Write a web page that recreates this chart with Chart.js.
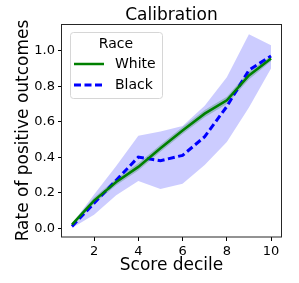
<!DOCTYPE html>
<html>
<head>
<meta charset="utf-8">
<script src="https://cdn.jsdelivr.net/npm/chart.js@4"></script>
<style>
  html, body { margin: 0; padding: 0; background: #fff; }
  #wrap { width: 299px; height: 283px; }
</style>
</head>
<body>
<div id="wrap"><canvas id="c" width="299" height="283"></canvas></div>
<script>
const deciles = [1, 2, 3, 4, 5, 6, 7, 8, 9, 10];
const whiteRate  = [0.020, 0.155, 0.260, 0.345, 0.450, 0.550, 0.645, 0.720, 0.860, 0.955];
const whiteLower = [0.010, 0.137, 0.242, 0.325, 0.430, 0.530, 0.625, 0.700, 0.838, 0.940];
const whiteUpper = [0.030, 0.173, 0.278, 0.365, 0.470, 0.570, 0.665, 0.740, 0.882, 0.970];
const blackRate  = [0.010, 0.140, 0.270, 0.400, 0.380, 0.410, 0.515, 0.685, 0.890, 0.970];
const blackLower = [0.000, 0.075, 0.185, 0.265, 0.220, 0.250, 0.355, 0.485, 0.680, 0.900];
const blackUpper = [0.025, 0.190, 0.350, 0.520, 0.545, 0.575, 0.690, 0.850, 1.092, 1.030];
const xTicks = [2, 4, 6, 8, 10];
const yTicks = [0.0, 0.2, 0.4, 0.6, 0.8, 1.0];
const chartTitle = 'Calibration';
const legendTitle = 'Race';
const seriesNames = ['White', 'Black'];

const FONT = "'DejaVu Sans', sans-serif";
const pts = (ys) => deciles.map((x, i) => ({ x: x, y: ys[i] }));

const frame = {
  id: 'frame',
  afterDatasetsDraw(chart) {
    const { ctx, chartArea: a } = chart;
    ctx.save();
    ctx.strokeStyle = '#262626';
    ctx.lineWidth = 1;
    ctx.strokeRect(Math.round(a.left) - 0.5, Math.round(a.top) + 0.5,
                   Math.round(a.right - a.left) + 1, Math.round(a.bottom - a.top) - 0.5);
    ctx.restore();
  }
};

const titleAbove = {
  id: 'titleAbove',
  afterDraw(chart) {
    const { ctx, chartArea: a } = chart;
    ctx.save();
    ctx.fillStyle = '#000';
    ctx.font = '17px ' + FONT;
    ctx.textAlign = 'center';
    ctx.textBaseline = 'alphabetic';
    ctx.fillText(chartTitle, (a.left + a.right) / 2, a.top - 4);
    ctx.restore();
  }
};

const legendBox = {
  id: 'legendBox',
  afterDraw(chart) {
    const { ctx, chartArea: a } = chart;
    const x0 = a.left + 8, y0 = a.top + 8, w = 92, h = 66, r = 3;
    ctx.save();
    ctx.beginPath();
    ctx.roundRect(x0 + 0.5, y0 + 0.5, w, h, r);
    ctx.fillStyle = 'rgba(255,255,255,0.8)';
    ctx.fill();
    ctx.strokeStyle = '#d6d6d6';
    ctx.lineWidth = 1;
    ctx.stroke();
    ctx.fillStyle = '#000';
    ctx.font = '14px ' + FONT;
    ctx.textBaseline = 'middle';
    ctx.textAlign = 'center';
    ctx.fillText(legendTitle, x0 + w / 2, y0 + 12);
    ctx.textAlign = 'left';
    const ds = [chart.data.datasets[0], chart.data.datasets[1]];
    ds.forEach((d, i) => {
      const yy = y0 + 32 + i * 21;
      ctx.beginPath();
      ctx.setLineDash(d.borderDash || []);
      ctx.strokeStyle = d.borderColor;
      ctx.lineWidth = d.borderWidth;
      ctx.moveTo(x0 + 4, yy);
      ctx.lineTo(x0 + 34, yy);
      ctx.stroke();
      ctx.setLineDash([]);
      ctx.fillText(seriesNames[i], x0 + 45, yy);
    });
    ctx.restore();
  }
};

new Chart(document.getElementById('c'), {
  type: 'line',
  data: {
    datasets: [
      { label: seriesNames[0], data: pts(whiteRate), borderColor: '#008000', borderWidth: 2.5,
        pointRadius: 0, fill: false, order: 0, tension: 0 },
      { label: seriesNames[1], data: pts(blackRate), borderColor: '#0000ff', borderWidth: 3,
        borderDash: [7, 3.5], pointRadius: 0, fill: false, order: 0, tension: 0 },
      { label: 'wu', data: pts(whiteUpper), borderWidth: 0, borderColor: 'rgba(0,0,0,0)',
        backgroundColor: 'rgba(0,110,40,0.25)', pointRadius: 0, fill: '+1', order: 1 },
      { label: 'wl', data: pts(whiteLower), borderWidth: 0, borderColor: 'rgba(0,0,0,0)',
        pointRadius: 0, fill: false, order: 1 },
      { label: 'bu', data: pts(blackUpper), borderWidth: 0, borderColor: 'rgba(0,0,0,0)',
        backgroundColor: 'rgba(0,0,255,0.2)', pointRadius: 0, fill: '+1', order: 2 },
      { label: 'bl', data: pts(blackLower), borderWidth: 0, borderColor: 'rgba(0,0,0,0)',
        pointRadius: 0, fill: false, order: 2 }
    ]
  },
  options: {
    responsive: false,
    animation: false,
    devicePixelRatio: 1,
    layout: { padding: { left: 0, right: 18, top: 24, bottom: 0 } },
    plugins: {
      legend: { display: false },
      tooltip: { enabled: false },
      title: { display: false }
    },
    scales: {
      x: {
        type: 'linear', min: 0.55, max: 10.45,
        afterBuildTicks: (s) => { s.ticks = xTicks.map(v => ({ value: v })); },
        afterFit: (s) => { s.height = 46; },
        border: { display: false },
        grid: { display: true, drawOnChartArea: false, drawTicks: true, tickLength: 4, color: '#000' },
        ticks: { color: '#000', font: { family: FONT, size: 13 }, padding: 3, maxRotation: 0,
                 callback: (v) => String(v) },
        title: { display: true, text: 'Score decile', color: '#000',
                 font: { family: FONT, size: 17 }, padding: { top: 0, bottom: 7 } }
      },
      y: {
        type: 'linear', min: -0.05, max: 1.15,
        afterBuildTicks: (s) => { s.ticks = yTicks.map(v => ({ value: v })); },
        afterFit: (s) => { s.width = 62; },
        border: { display: false },
        grid: { display: true, drawOnChartArea: false, drawTicks: true, tickLength: 4, color: '#000' },
        ticks: { color: '#000', font: { family: FONT, size: 13 }, padding: 3,
                 callback: (v) => Number(v).toFixed(1) },
        title: { display: true, text: 'Rate of positive outcomes', color: '#000',
                 font: { family: FONT, size: 17 }, padding: { top: 13, bottom: 0 } }
      }
    }
  },
  plugins: [frame, titleAbove, legendBox]
});
</script>
</body>
</html>
